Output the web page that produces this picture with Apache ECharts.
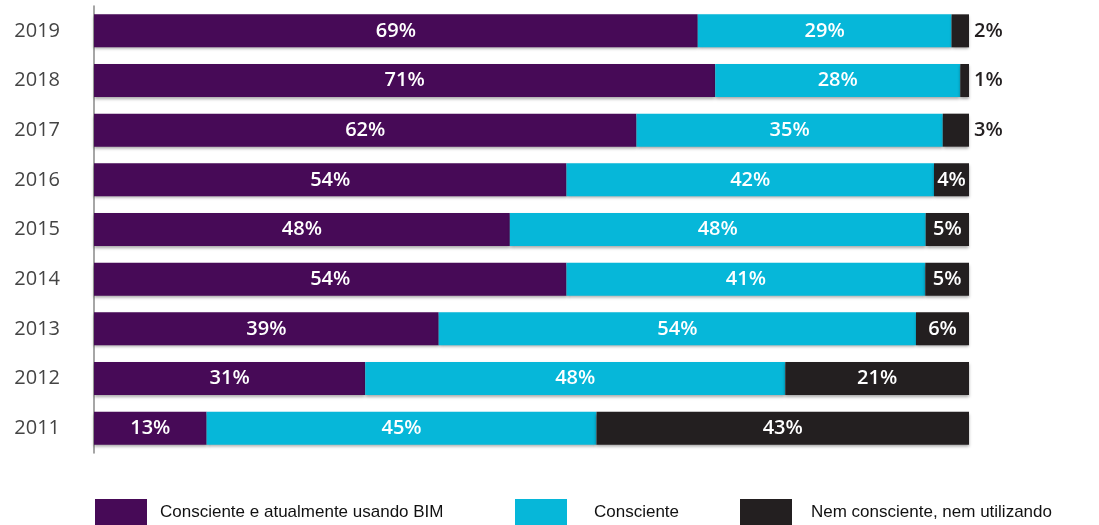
<!DOCTYPE html>
<html>
<head>
<meta charset="utf-8">
<script src="https://cdn.jsdelivr.net/npm/echarts@6/dist/echarts.min.js"></script>
<style>html,body{margin:0;padding:0;background:#fff;}#c{width:1099px;height:525px;}</style>
</head>
<body>
<div id="c"></div>
<script>
const years = ['2011','2012','2013','2014','2015','2016','2017','2018','2019'];
const awareUsing = [13, 31, 39, 54, 48, 54, 62, 71, 69];
const aware      = [45, 48, 54, 41, 48, 42, 35, 28, 29];
const neither    = [43, 21, 6, 5, 5, 4, 3, 1, 2];
const seriesNames = ['Consciente e atualmente usando BIM', 'Consciente', 'Nem consciente, nem utilizando'];
const colors = ['#470a57', '#06b7d9', '#231f20'];

const totals = years.map((_, i) => awareUsing[i] + aware[i] + neither[i]);
const raw = [awareUsing, aware, neither];

const chart = echarts.init(document.getElementById('c'));
const series = raw.map((arr, s) => ({
  name: seriesNames[s],
  type: 'bar',
  stack: 'total',
  barWidth: 33,
  itemStyle: {
    color: colors[s],
    shadowColor: 'rgba(0,0,0,0.35)',
    shadowBlur: 3,
    shadowOffsetY: 2
  },
  label: {
    show: true,
    position: 'inside',
    color: '#fff',
    fontFamily: 'Open Sans',
    fontWeight: 600,
    fontSize: 20,
    formatter: p => p.data.raw + '%'
  },
  data: arr.map((v, i) => {
    const d = { value: v / totals[i] * 100, raw: v };
    if (s === 2 && v <= 3) {
      d.label = { position: 'right', color: '#231f20', distance: 5 };
    }
    return d;
  })
}));

const legendBase = {
  top: 499,
  padding: 0,
  itemWidth: 52,
  itemHeight: 26,
  icon: 'rect',
  selectedMode: false,
  textStyle: { fontFamily: 'Liberation Sans', fontSize: 17, color: '#111', padding: [0, 0, 0, 8] }
};

chart.setOption({
  animation: false,
  backgroundColor: '#fff',
  grid: { left: 94, right: 130, top: 6, height: 447 },
  xAxis: { type: 'value', min: 0, max: 100, show: false },
  yAxis: {
    type: 'category',
    data: years,
    offset: 17,
    axisLine: { show: true, lineStyle: { color: '#888', width: 1.5 } },
    axisTick: { show: false },
    axisLabel: { fontFamily: 'Open Sans', fontSize: 20, color: '#444', margin: 17 }
  },
  legend: [
    Object.assign({}, legendBase, { left: 95, data: [seriesNames[0]] }),
    Object.assign({}, legendBase, { left: 515, data: [seriesNames[1]], textStyle: Object.assign({}, legendBase.textStyle, { padding: [0, 0, 0, 22] }) }),
    Object.assign({}, legendBase, { left: 740, data: [seriesNames[2]], textStyle: Object.assign({}, legendBase.textStyle, { padding: [0, 0, 0, 14] }) })
  ],
  series: series
});
</script>
</body>
</html>
